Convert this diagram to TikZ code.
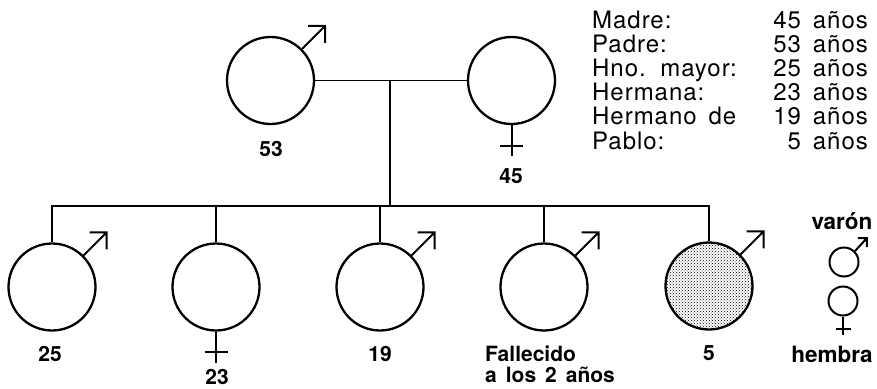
\documentclass[tikz,border=0pt]{standalone}
\usepackage{fontspec}
\setmainfont{TeX Gyre Heros}
\newfontfamily\tablefamily[LetterSpace=4]{TeX Gyre Heros}
\usetikzlibrary{patterns}
\newcommand\mylblfont{\fontsize{21}{21}\selectfont\bfseries\spaceskip 9pt\relax}
\newcommand\mylegfont{\fontsize{22.5}{22.5}\selectfont\bfseries}
\newcommand\mytxtfont{\tablefamily\fontsize{24}{24}\selectfont\spaceskip 12pt\relax}
\tikzset{
  person/.style={circle,draw,line width=2.3pt,minimum size=87pt,inner sep=0pt},
  smallperson/.style={circle,draw,line width=2pt,minimum size=29pt,inner sep=0pt},
  link/.style={line width=1.3pt},
  sym/.style={line width=2pt,line join=miter},
  lbl/.style={font=\mylblfont,inner sep=0pt},
  leg/.style={font=\mylegfont,inner sep=0pt},
  txt/.style={font=\mytxtfont,inner sep=0pt},
  male/.pic={\draw[sym] (0,0) -- (23,-23) ++(-17,0) -- ++(17,0) -- ++(0,17);},
  female/.pic={\draw[sym] (0,0) -- (0,31) (-11.5,20.5) -- (11.5,20.5);},
  smallmale/.pic={\draw[sym] (0,0) -- (12,-13) ++(-9,0) -- ++(9,0) -- ++(0,9);},
  smallfemale/.pic={\draw[sym] (0,0) -- (0,18) (-7.5,12) -- (7.5,12);}
}
\begin{document}
\begin{tikzpicture}[x=1pt,y=-1pt]
\useasboundingbox (0,0) rectangle (877,388);
% parents
\node[person] (f) at (270.5,80.5) {};
\node[person] (m) at (511.5,80.5) {};
\pic at (f.45) {male};
\pic at (m.south) {female};
\node[lbl] (lf) at (271,149) {53};
\node[lbl] (lm) at (511,176) {45};
% children
\node[person] (c1) at (52,287) {};
\node[person] (c2) at (216,287) {};
\node[person] (c3) at (380,287) {};
\node[person] (c4) at (544,287) {};
\node[person,pattern=crosshatch dots] (c5) at (709,286) {};
\pic at (c1.45) {male};
\pic at (c2.south) {female};
\pic at (c3.45) {male};
\pic at (c4.45) {male};
\pic at (c5.45) {male};
\node[lbl] (l1) at (50,354) {25};
\node[lbl] (l2) at (217,377) {23};
\node[lbl] (l3) at (380,354) {19};
\node[lbl,anchor=base west] (l4a) at (485,361) {Fallecido};
\node[lbl,anchor=base west] (l4b) at (485,382) {a los 2 años};
\node[lbl] (l5) at (709,353) {5};
% connectors
\draw[link] (f.east) -- (m.west);
\coordinate (j) at (390,81);
\coordinate (bl) at (52,206);
\coordinate (br) at (709,206);
\coordinate (bj) at (390,206);
\draw[link] (j) -- (bj);
\draw[link] (c1.north) -- (c1.north |- bl) -- (br) -- (c5.north);
\draw[link] (c2.north) -- (c2.north |- bl);
\draw[link] (c3.north) -- (c3.north |- bl);
\draw[link] (c4.north) -- (c4.north |- bl);
% legend
\node[leg,anchor=base] (lv) at (842,229) {varón};
\node[smallperson] (sm) at (844,262) {};
\pic at (sm.45) {smallmale};
\node[smallperson] (sf) at (843,301) {};
\pic at (sf.south) {smallfemale};
\node[leg,anchor=base] (lh) at (832,362) {hembra};
% age table
\foreach \i/\a/\b in {0/Madre:/45 años,1/Padre:/53 años,2/Hno. mayor:/25 años,3/Hermana:/23 años,4/Hermano de/19 años,5/Pablo:/5 años}{
  \node[txt,anchor=base west] (t\i) at (592,28+24.2*\i) {\a};
  \node[txt,anchor=base east] (n\i) at (868,28+24.2*\i) {\b};
}
\end{tikzpicture}
\end{document}
